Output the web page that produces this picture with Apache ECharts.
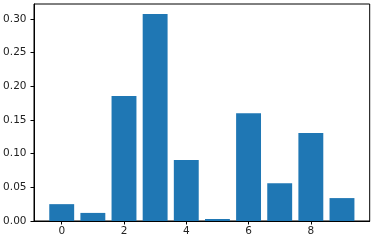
<!DOCTYPE html>
<html>
<head>
<meta charset="utf-8">
<script src="https://cdn.jsdelivr.net/npm/echarts@6/dist/echarts.min.js"></script>
<style>html,body{margin:0;padding:0;background:#fff}#c{width:377px;height:241px}</style>
</head>
<body>
<div id="c"></div>
<script>
const categories = [0, 1, 2, 3, 4, 5, 6, 7, 8, 9];
const values = [0.025, 0.012, 0.1855, 0.307, 0.0905, 0.003, 0.160, 0.056, 0.1306, 0.034];
const xTicks = [0, 2, 4, 6, 8];
const yTicks = [0, 0.05, 0.10, 0.15, 0.20, 0.25, 0.30];

const chart = echarts.init(document.getElementById('c'), null, {renderer: 'canvas'});
const font = {fontFamily: 'DejaVu Sans', fontSize: 10.5, color: '#222'};
chart.setOption({
  animation: false,
  backgroundColor: '#fff',
  grid: {left: 34, top: 4, right: 7.3, bottom: 20, show: true, borderColor: '#000', borderWidth: 1},
  xAxis: {
    type: 'value', min: -0.89, max: 9.89,
    axisLine: {show: true, onZero: false, lineStyle: {color: '#000', width: 1}},
    axisTick: {show: true, inside: false, length: 3.5, lineStyle: {color: '#000'}, customValues: xTicks},
    axisLabel: Object.assign({margin: 4.5, customValues: xTicks, formatter: v => String(v)}, font),
    splitLine: {show: false}
  },
  yAxis: {
    type: 'value', min: 0, max: 0.322, interval: 0.05,
    axisLine: {show: true, onZero: false, lineStyle: {color: '#000', width: 1}},
    axisTick: {show: true, length: 3.5, lineStyle: {color: '#000'}, customValues: yTicks},
    axisLabel: Object.assign({margin: 7.5, customValues: yTicks, formatter: v => v.toFixed(2)}, font),
    splitLine: {show: false}
  },
  series: [{
    type: 'bar',
    data: categories.map((c, i) => [c, values[i]]),
    barWidth: 24.9,
    itemStyle: {color: '#1f77b4'}
  }]
});
</script>
</body>
</html>
